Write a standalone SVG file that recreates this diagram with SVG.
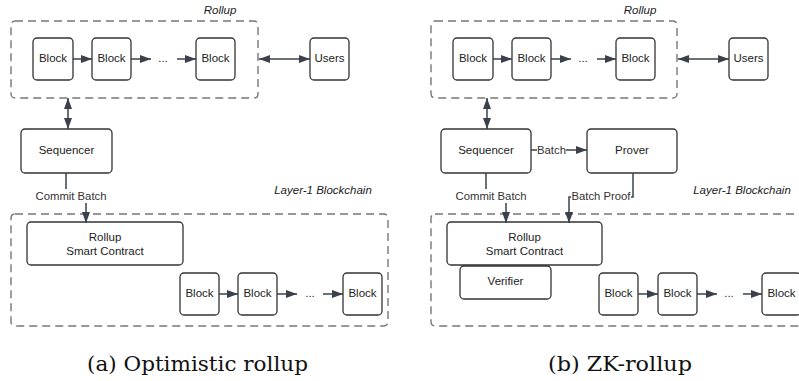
<svg xmlns="http://www.w3.org/2000/svg" width="799" height="381" viewBox="0 0 799 381">
<style>
.box{fill:#fff;stroke:#333;stroke-width:1.3}
.grp{fill:none;stroke:#777;stroke-width:1.4;stroke-dasharray:8 5}
.t{font-family:"Liberation Sans",Arial,sans-serif;font-size:11.5px;fill:#222;text-anchor:middle}
.it{font-family:"Liberation Sans",Arial,sans-serif;font-size:11.5px;font-style:italic;fill:#222;text-anchor:middle}
.lbl{font-family:"Liberation Sans",Arial,sans-serif;font-size:11.3px;fill:#333;text-anchor:middle}
.cap{font-family:"DejaVu Serif","Liberation Serif",serif;font-size:21px;fill:#111;text-anchor:middle}
.c{fill:none;stroke:#3a414a;stroke-width:1.5}
.bg{fill:#fff}
</style>
<defs>
<marker id="ah" markerUnits="userSpaceOnUse" markerWidth="12" markerHeight="10" refX="11" refY="4" orient="auto">
<path d="M0,0 L11,4 L0,8 z" fill="#3a414a"/>
</marker>
<marker id="as" markerUnits="userSpaceOnUse" markerWidth="12" markerHeight="10" refX="0" refY="4" orient="auto">
<path d="M11,0 L0,4 L11,8 z" fill="#3a414a"/>
</marker>
</defs>

<!-- ===== Panel (a) ===== -->
<g id="a-rollup-group">
<rect class="grp" x="11" y="21" width="247" height="77" rx="4"/>
<text class="it" x="220" y="14">Rollup</text>
</g>
<g id="a-l1-group">
<rect class="grp" x="11" y="214" width="377" height="112" rx="4"/>
<text class="it" x="323" y="194">Layer-1 Blockchain</text>
</g>
<g id="a-block1"><rect class="box" x="33" y="38" width="40" height="42" rx="4"/><text class="t" x="53" y="62">Block</text></g>
<g id="a-block2"><rect class="box" x="92" y="38" width="39" height="42" rx="4"/><text class="t" x="111.5" y="62">Block</text></g>
<g id="a-dots"><text class="t" x="163" y="62">...</text></g>
<g id="a-block3"><rect class="box" x="196" y="38" width="39" height="42" rx="4"/><text class="t" x="215.5" y="62">Block</text></g>
<g id="a-users"><rect class="box" x="310" y="38" width="39" height="42" rx="4"/><text class="t" x="329.5" y="62">Users</text></g>
<g id="a-sequencer"><rect class="box" x="21" y="129" width="91" height="44" rx="4"/><text class="t" x="66.5" y="154">Sequencer</text></g>
<g id="a-contract"><rect class="box" x="27" y="222" width="156" height="43" rx="4"/><text class="t" x="105" y="241">Rollup</text><text class="t" x="105" y="255">Smart Contract</text></g>
<g id="a-lblock1"><rect class="box" x="180" y="273" width="39" height="42" rx="4"/><text class="t" x="199.5" y="297">Block</text></g>
<g id="a-lblock2"><rect class="box" x="238" y="273" width="39" height="42" rx="4"/><text class="t" x="257.5" y="297">Block</text></g>
<g id="a-ldots"><text class="t" x="310" y="297">...</text></g>
<g id="a-lblock3"><rect class="box" x="343" y="273" width="39" height="42" rx="4"/><text class="t" x="362.5" y="297">Block</text></g>
<text class="cap" x="197.5" y="371" textLength="221" lengthAdjust="spacingAndGlyphs">(a) Optimistic rollup</text>

<!-- ===== Panel (b) ===== -->
<g id="b-rollup-group">
<rect class="grp" x="431" y="21" width="246" height="77" rx="4"/>
<text class="it" x="640" y="14">Rollup</text>
</g>
<g id="b-l1-group">
<rect class="grp" x="431" y="214" width="385" height="112" rx="4"/>
<text class="it" x="742" y="194">Layer-1 Blockchain</text>
</g>
<g id="b-block1"><rect class="box" x="453" y="38" width="40" height="42" rx="4"/><text class="t" x="473" y="62">Block</text></g>
<g id="b-block2"><rect class="box" x="512" y="38" width="39" height="42" rx="4"/><text class="t" x="531.5" y="62">Block</text></g>
<g id="b-dots"><text class="t" x="583" y="62">...</text></g>
<g id="b-block3"><rect class="box" x="616" y="38" width="39" height="42" rx="4"/><text class="t" x="635.5" y="62">Block</text></g>
<g id="b-users"><rect class="box" x="729" y="38" width="39" height="42" rx="4"/><text class="t" x="748.5" y="62">Users</text></g>
<g id="b-sequencer"><rect class="box" x="441" y="129" width="90" height="44" rx="4"/><text class="t" x="486" y="154">Sequencer</text></g>
<g id="b-prover"><rect class="box" x="587" y="129" width="90" height="44" rx="4"/><text class="t" x="632" y="154">Prover</text></g>
<g id="b-contract"><rect class="box" x="447" y="222" width="155" height="43" rx="4"/><text class="t" x="524.5" y="241">Rollup</text><text class="t" x="524.5" y="255">Smart Contract</text></g>
<g id="b-verifier"><rect class="box" x="460" y="266" width="91" height="33" rx="4"/><text class="t" x="505.5" y="285">Verifier</text></g>
<g id="b-lblock1"><rect class="box" x="599" y="273" width="39" height="42" rx="4"/><text class="t" x="618.5" y="297">Block</text></g>
<g id="b-lblock2"><rect class="box" x="658" y="273" width="39" height="42" rx="4"/><text class="t" x="677.5" y="297">Block</text></g>
<g id="b-ldots"><text class="t" x="729" y="297">...</text></g>
<g id="b-lblock3"><rect class="box" x="762" y="273" width="39" height="42" rx="4"/><text class="t" x="781.5" y="297">Block</text></g>
<text class="cap" x="620" y="371" textLength="144" lengthAdjust="spacingAndGlyphs">(b) ZK-rollup</text>

<!-- ===== Connectors ===== -->
<g id="connectors">
<!-- panel a -->
<line class="c" x1="73" y1="59" x2="92" y2="59" marker-end="url(#ah)"/>
<line class="c" x1="131" y1="59" x2="151" y2="59" marker-end="url(#ah)"/>
<line class="c" x1="177" y1="59" x2="196" y2="59" marker-end="url(#ah)"/>
<line class="c" x1="259" y1="59" x2="310" y2="59" marker-start="url(#as)" marker-end="url(#ah)"/>
<line class="c" x1="68" y1="98" x2="68" y2="129" marker-start="url(#as)" marker-end="url(#ah)"/>
<path class="c" d="M66,173 V197 H86 V223" marker-end="url(#ah)"/>
<rect class="bg" x="34" y="189" width="74" height="14"/>
<text class="lbl" x="71" y="200">Commit Batch</text>
<line class="c" x1="219" y1="294" x2="238" y2="294" marker-end="url(#ah)"/>
<line class="c" x1="277" y1="294" x2="297" y2="294" marker-end="url(#ah)"/>
<line class="c" x1="323" y1="294" x2="343" y2="294" marker-end="url(#ah)"/>
<!-- panel b -->
<line class="c" x1="493" y1="59" x2="512" y2="59" marker-end="url(#ah)"/>
<line class="c" x1="551" y1="59" x2="571" y2="59" marker-end="url(#ah)"/>
<line class="c" x1="597" y1="59" x2="616" y2="59" marker-end="url(#ah)"/>
<line class="c" x1="678" y1="59" x2="729" y2="59" marker-start="url(#as)" marker-end="url(#ah)"/>
<line class="c" x1="487" y1="98" x2="487" y2="129" marker-start="url(#as)" marker-end="url(#ah)"/>
<line class="c" x1="531" y1="150" x2="587" y2="150" marker-end="url(#ah)"/>
<rect class="bg" x="537" y="143" width="29" height="14"/>
<text class="lbl" x="551.5" y="154">Batch</text>
<path class="c" d="M486,173 V197 H506 V223" marker-end="url(#ah)"/>
<rect class="bg" x="455" y="189" width="73" height="14"/>
<text class="lbl" x="491" y="200">Commit Batch</text>
<path class="c" d="M633,173 V197 H569 V223" marker-end="url(#ah)"/>
<rect class="bg" x="571" y="189" width="60" height="14"/>
<text class="lbl" x="601" y="200">Batch Proof</text>
<line class="c" x1="638" y1="294" x2="658" y2="294" marker-end="url(#ah)"/>
<line class="c" x1="697" y1="294" x2="717" y2="294" marker-end="url(#ah)"/>
<line class="c" x1="743" y1="294" x2="762" y2="294" marker-end="url(#ah)"/>
</g>
</svg>
